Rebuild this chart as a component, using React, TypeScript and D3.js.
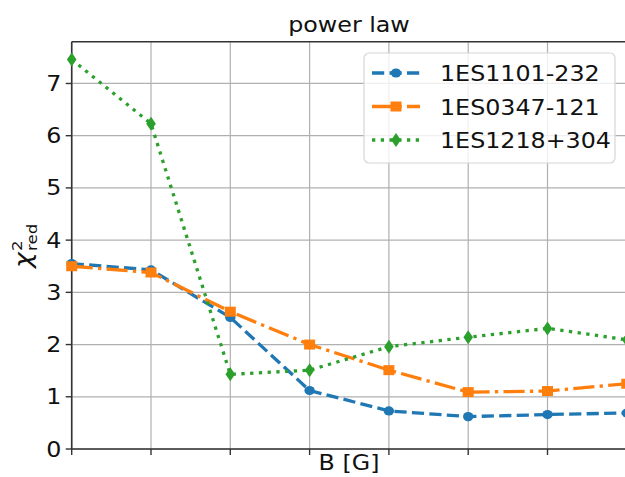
import React from "react";
import * as d3 from "d3";

const bSteps = [0, 1, 2, 3, 4, 5, 6, 7];
const yTicks = [0, 1, 2, 3, 4, 5, 6, 7];
const series1Name = "1ES1101-232";
const series2Name = "1ES0347-121";
const series3Name = "1ES1218+304";
const series1 = [3.55, 3.43, 2.52, 1.12, 0.73, 0.62, 0.66, 0.69];
const series2 = [3.5, 3.38, 2.63, 2.0, 1.51, 1.09, 1.11, 1.25];
const series3 = [7.46, 6.23, 1.43, 1.51, 1.96, 2.14, 2.31, 2.09];

const W = 625;
const H = 477;
const L = 71.7;
const R = 626.8;
const T = 41.7;
const B = 449;
const FONT = "DejaVu Sans, sans-serif";
const FS = 20.5;
const SX = 1.16;
const LW = 3.3;

const x = d3.scaleLinear().domain([0, 7]).range([L, R]);
const y = d3.scaleLinear().domain([0, 7.8]).range([B, T]);

type Marker = "circle" | "square" | "diamond";

function MarkerShape({ kind, cx, cy, color }: { kind: Marker; cx: number; cy: number; color: string }) {
  if (kind === "circle") return <ellipse cx={cx} cy={cy} rx={5.2} ry={4.6} fill={color} />;
  if (kind === "square") return <rect x={cx - 5.5} y={cy - 5} width={11} height={10} fill={color} />;
  return <path d={`M${cx},${cy - 7} L${cx + 4.8},${cy} L${cx},${cy + 7} L${cx - 4.8},${cy} Z`} fill={color} />;
}

const seriesList = [
  { name: series1Name, values: series1, color: "#1f77b4", dash: `${3.7 * LW},${1.6 * LW}`, marker: "circle" as Marker },
  { name: series2Name, values: series2, color: "#ff7f0e", dash: `${6.4 * LW},${1.6 * LW},${1 * LW},${1.6 * LW}`, marker: "square" as Marker },
  { name: series3Name, values: series3, color: "#2ca02c", dash: `${1 * LW},${1.65 * LW}`, marker: "diamond" as Marker },
];

function SText({ x: tx, y: ty, anchor = "start", size = FS, children, extra = "" }: any) {
  return (
    <text
      transform={`translate(${tx},${ty}) ${extra} scale(${SX},1)`}
      textAnchor={anchor}
      fontFamily={FONT}
      fontSize={size}
      fill="#111"
    >
      {children}
    </text>
  );
}

export default function App() {
  const line = d3
    .line<number>()
    .x((_, i) => x(bSteps[i]))
    .y((d) => y(d));

  const legX = 364;
  const legY = 53;
  const rowYs = [73, 106.5, 140];

  return (
    <svg width={W} height={H} style={{ position: "absolute", left: 0, top: 0, background: "#fff" }}>
      <defs>
        <clipPath id="plotClip">
          <rect x={L - 8} y={T - 8} width={R - L + 16} height={B - T + 16} />
        </clipPath>
      </defs>
      <rect x={0} y={0} width={W} height={H} fill="#fff" />
      {/* grid */}
      {bSteps.map((b) => (
        <line key={"gx" + b} x1={x(b)} x2={x(b)} y1={T} y2={B} stroke="#b0b0b0" strokeWidth={1.2} />
      ))}
      {yTicks.map((t) => (
        <line key={"gy" + t} x1={L} x2={R} y1={y(t)} y2={y(t)} stroke="#b0b0b0" strokeWidth={1.2} />
      ))}
      {/* spines */}
      <line x1={L} x2={L} y1={T} y2={B} stroke="#333" strokeWidth={1.6} />
      <line x1={L} x2={R} y1={B} y2={B} stroke="#333" strokeWidth={1.6} />
      <line x1={L} x2={R} y1={T} y2={T} stroke="#333" strokeWidth={1.6} />
      {/* ticks */}
      {bSteps.map((b) => (
        <line key={"tx" + b} x1={x(b)} x2={x(b)} y1={B} y2={B + 6} stroke="#333" strokeWidth={1.4} />
      ))}
      {yTicks.map((t) => (
        <g key={"ty" + t}>
          <line x1={L - 6} x2={L} y1={y(t)} y2={y(t)} stroke="#333" strokeWidth={1.4} />
          <SText x={61.5} y={y(t) + 7.5} anchor="end">
            {t}
          </SText>
        </g>
      ))}
      {/* series */}
      <g clipPath="url(#plotClip)">
        {seriesList.map((s) => (
          <g key={s.name}>
            <path d={line(s.values) || ""} fill="none" stroke={s.color} strokeWidth={LW} strokeDasharray={s.dash} />
            {s.values.map((v, i) => (
              <MarkerShape key={i} kind={s.marker} cx={x(bSteps[i])} cy={y(v)} color={s.color} />
            ))}
          </g>
        ))}
      </g>
      {/* title */}
      <SText x={349} y={32} anchor="middle">
        power law
      </SText>
      {/* x label */}
      <SText x={349} y={470} anchor="middle">
        B [G]
      </SText>
      {/* y label */}
      <text transform={`translate(31,268) rotate(-90) scale(${SX},1)`} fontFamily={FONT} fontSize={FS} fill="#111" textAnchor="start">
        <tspan fontStyle="italic" fontSize={23}>χ</tspan>
        <tspan fontSize={FS * 0.7} dx={1} dy={-9}>2</tspan>
        <tspan fontSize={FS * 0.7} dx={-9} dy={15}>red</tspan>
      </text>
      {/* legend */}
      <rect x={legX} y={legY} width={251} height={110} rx={5} fill="#fff" fillOpacity={0.8} stroke="#d6d6d6" strokeWidth={1.2} />
      {seriesList.map((s, i) => (
        <g key={"leg" + s.name}>
          <line x1={372} x2={420} y1={rowYs[i]} y2={rowYs[i]} stroke={s.color} strokeWidth={LW} strokeDasharray={s.dash} />
          <MarkerShape kind={s.marker} cx={396} cy={rowYs[i]} color={s.color} />
          <SText x={440} y={rowYs[i] + 8}>
            {s.name}
          </SText>
        </g>
      ))}
    </svg>
  );
}
